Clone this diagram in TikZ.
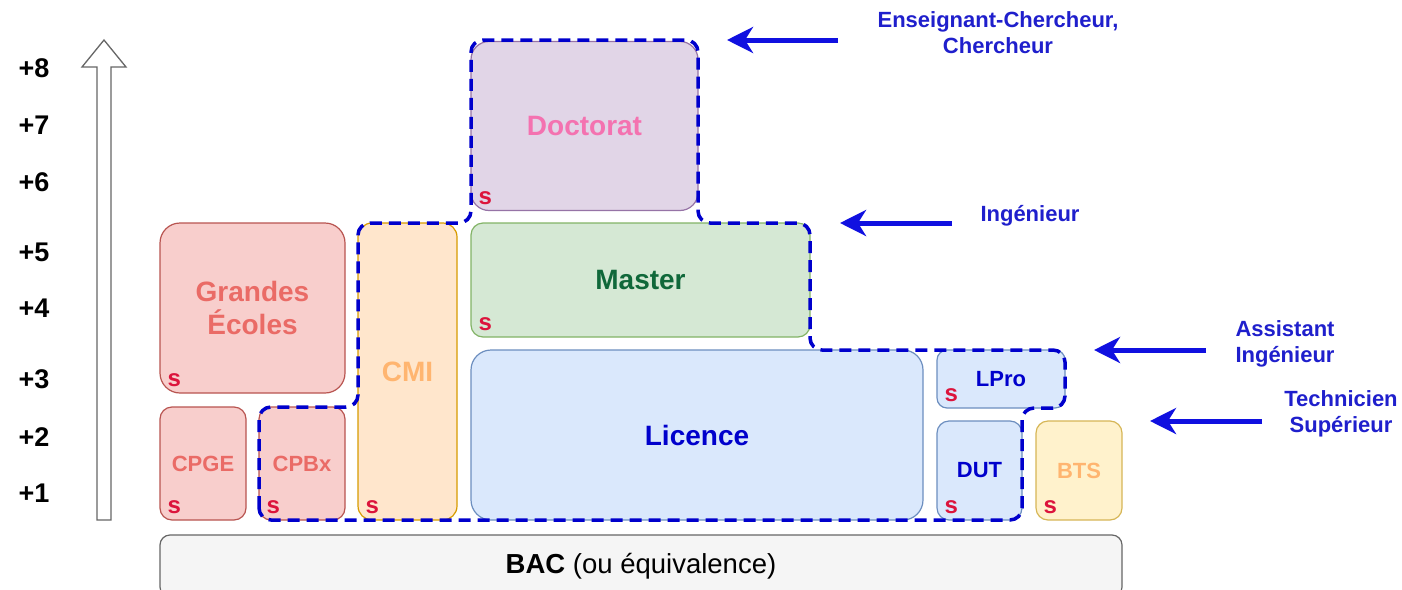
\documentclass[tikz,border=0pt]{standalone}
\usepackage{fontspec}
\setmainfont{Liberation Sans}
\usetikzlibrary{arrows.meta}
\definecolor{redfill}{HTML}{F8CECC}
\definecolor{redline}{HTML}{B85450}
\definecolor{redtext}{HTML}{EA6B66}
\definecolor{orfill}{HTML}{FFE6CC}
\definecolor{orline}{HTML}{D79B00}
\definecolor{ortext}{HTML}{FFB570}
\definecolor{pufill}{HTML}{E1D5E7}
\definecolor{puline}{HTML}{9673A6}
\definecolor{putext}{HTML}{F472B0}
\definecolor{grfill}{HTML}{D5E8D4}
\definecolor{grline}{HTML}{82B366}
\definecolor{grtext}{HTML}{10683A}
\definecolor{blfill}{HTML}{DAE8FC}
\definecolor{blline}{HTML}{6C8EBF}
\definecolor{bltext}{HTML}{0000CC}
\definecolor{yefill}{HTML}{FFF2CC}
\definecolor{yeline}{HTML}{D6B656}
\definecolor{bacfill}{HTML}{F5F5F5}
\definecolor{bacline}{HTML}{666666}
\definecolor{smarkcol}{HTML}{DC143C}
\definecolor{dashblue}{HTML}{0000CC}
\definecolor{arrowblue}{HTML}{1010E0}
\definecolor{rlab}{HTML}{1F1FCC}
\begin{document}
\begin{tikzpicture}[x=1pt,y=-1pt,
  box/.style={draw, line width=1.2pt, inner sep=0pt, align=center,
    font=\bfseries\fontsize{28}{33}\selectfont},
  smallbox/.style={box, font=\bfseries\fontsize{22}{26}\selectfont},
  smark/.style={text=smarkcol, font=\bfseries\fontsize{24}{24}\selectfont,
    inner sep=0pt, anchor=base west},
  level/.style={font=\bfseries\fontsize{27}{27}\selectfont, inner sep=0pt},
  rlabel/.style={text=rlab, align=center, font=\bfseries\fontsize{22}{26}\selectfont, inner sep=0pt},
  rarrow/.style={draw=arrowblue, line width=5pt, -{Stealth[length=26pt,width=26pt,inset=8pt]}},
  dashpath/.style={draw=dashblue, line width=3.5pt, dash pattern=on 12pt off 7pt, rounded corners=12pt},
  redbox/.style={fill=redfill, draw=redline, text=redtext},
  orbox/.style={fill=orfill, draw=orline, text=ortext},
  pubox/.style={fill=pufill, draw=puline, text=putext},
  grbox/.style={fill=grfill, draw=grline, text=grtext},
  blbox/.style={fill=blfill, draw=blline, text=bltext},
  yebox/.style={fill=yefill, draw=yeline, text=ortext},
]
\useasboundingbox (0,0) rectangle (1402,589);
\clip (0,0) rectangle (1402,589);

% hollow level arrow
\draw[fill=white, draw=bacline, line width=1.3pt]
  (97,520) -- (97,67) -- (82,67) -- (104,40) -- (126,67) -- (111,67) -- (111,520) -- cycle;

% level labels
\node[level] (l8) at (34,68) {+8};
\node[level] (l7) at (34,125) {+7};
\node[level] (l6) at (34,182) {+6};
\node[level] (l5) at (34,252) {+5};
\node[level] (l4) at (34,308) {+4};
\node[level] (l3) at (34,379) {+3};
\node[level] (l2) at (34,437) {+2};
\node[level] (l1) at (34,493) {+1};

% boxes
\node[box, redbox, rounded corners=20pt, minimum width=185pt, minimum height=170pt] (ge) at (252.5,308) {Grandes\\Écoles};
\node[smallbox, redbox, rounded corners=12pt, minimum width=86pt, minimum height=113pt] (cpge) at (203,463.5) {CPGE};
\node[smallbox, redbox, rounded corners=12pt, minimum width=86pt, minimum height=113pt] (cpbx) at (302,463.5) {CPBx};
\node[box, orbox, rounded corners=14pt, minimum width=99pt, minimum height=297pt] (cmi) at (407.5,371.5) {CMI};
\node[box, pubox, rounded corners=18pt, minimum width=227pt, minimum height=169pt] (doc) at (584.5,126) {Doctorat};
\node[box, grbox, rounded corners=12pt, minimum width=339pt, minimum height=114pt] (master) at (640.5,280) {Master};
\node[box, blbox, rounded corners=20pt, minimum width=452pt, minimum height=170pt] (lic) at (697,435) {Licence};
\node[smallbox, blbox, rounded corners=10pt, minimum width=128pt, minimum height=58pt] (lpro) at (1001,379) {LPro};
\node[smallbox, blbox, rounded corners=12pt, minimum width=85pt, minimum height=99pt] (dut) at (979.5,470.5) {DUT};
\node[smallbox, yebox, rounded corners=12pt, minimum width=86pt, minimum height=99pt] (bts) at (1079,470.5) {BTS};
\node[box, fill=bacfill, draw=bacline, text=black, rounded corners=10pt, minimum width=962pt, minimum height=62pt,
  font=\fontsize{27.5}{30}\selectfont] (bac) at (641,566) {\textbf{BAC} (ou équivalence)};

% s marks
\foreach \b in {ge,cpge,cpbx,cmi,doc,master,lpro,dut,bts}
  \node[smark] (\b-s) at ([xshift=8pt,yshift=7pt]\b.south west) {s};

% dashed path
\draw[dashpath] (259,520) -- (259,407) -- (358,407) -- (358,223) -- (471,223) -- (471,40)
  -- (698,40) -- (698,223) -- (810,223) -- (810,350) -- (1065,350) -- (1065,408)
  -- (1022,408) -- (1022,520) -- cycle;

% right labels and arrows
\node[rlabel] (ec) at (998,33) {Enseignant-Chercheur,\\Chercheur};
\node[rlabel] (ing) at (1030,216) {Ingénieur};
\node[rlabel] (ai) at (1285,344) {Assistant\\Ingénieur};
\node[rlabel] (ts) at (1341,414) {Technicien\\Supérieur};

\coordinate (t1) at (838,40);  \coordinate (h1) at (727,40);
\coordinate (t2) at (952,223); \coordinate (h2) at (840,223);
\coordinate (t3) at (1206,350); \coordinate (h3) at (1094,350);
\coordinate (t4) at (1262,421); \coordinate (h4) at (1150,421);
\draw[rarrow] (t1) -- (h1);
\draw[rarrow] (t2) -- (h2);
\draw[rarrow] (t3) -- (h3);
\draw[rarrow] (t4) -- (h4);
\end{tikzpicture}
\end{document}
